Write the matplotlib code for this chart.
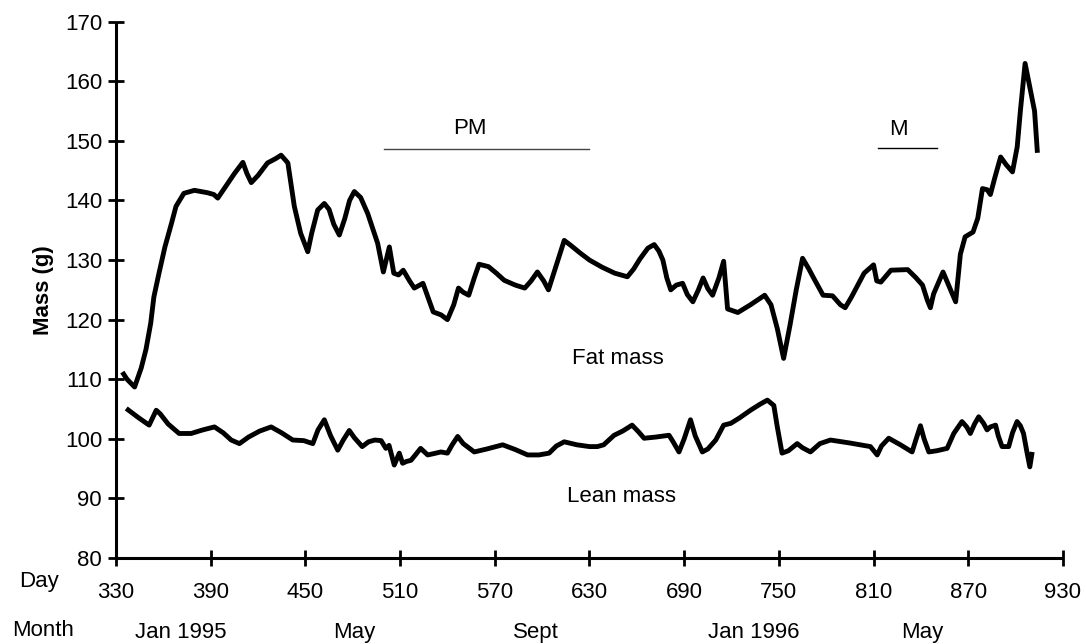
import matplotlib
matplotlib.use("Agg")
import matplotlib.pyplot as plt

# fat mass trace (day, g)
fat_day = [334, 337, 341.8, 346, 349, 352, 354, 357, 361, 365, 368, 373, 379.7,
           388, 392, 394.5, 400.9, 405, 410.4, 413, 415.7, 420, 426, 431, 434.6,
           438.9, 443, 447, 451.5, 454, 457.8, 462, 465, 468, 471.5, 475, 478,
           481, 485, 489.5, 495.8, 499.4, 503.2, 506, 509, 512, 516, 519, 524.5,
           528, 531, 536, 540, 544, 547, 550, 553.5, 557, 560, 566, 571, 576,
           583, 589, 593, 597, 601, 604, 607, 610, 614, 618, 624, 630, 638, 646,
           654, 658, 662, 667, 671, 674, 676.5, 679, 681.5, 685, 689, 692, 695.5,
           699, 702, 705, 708, 712, 715, 717.5, 724, 732, 741, 745, 749, 753,
           757, 761, 765, 769, 772, 778, 784, 789, 792, 796, 804, 810, 812,
           814.6, 821, 831.6, 836.6, 841, 844, 846, 848, 854, 858, 862, 865, 868,
           873, 876, 879, 882, 884, 887, 890.5, 894, 898, 901, 903, 906, 909,
           912, 913.8]
fat_mass = [111.2, 110, 108.7, 111.9, 115, 119.4, 123.8, 127.5, 132.2, 136, 139,
            141.2, 141.7, 141.3, 141, 140.4, 142.9, 144.5, 146.4, 144.5, 143,
            144.2, 146.3, 147, 147.6, 146.3, 139, 134.5, 131.4, 134.5, 138.4,
            139.5, 138.5, 136, 134.2, 137, 140, 141.5, 140.5, 137.8, 132.8, 128,
            132.2, 127.8, 127.5, 128.3, 126.5, 125.3, 126.1, 123.5, 121.3, 120.8,
            120, 122.5, 125.3, 124.6, 124.1, 127, 129.3, 128.9, 127.8, 126.6,
            125.8, 125.3, 126.5, 128, 126.5, 125, 127.5, 130, 133.3, 132.5, 131.2,
            130, 128.8, 127.8, 127.2, 128.5, 130.2, 132, 132.6, 131.5, 130, 127,
            125, 125.8, 126.1, 124.2, 123, 125, 127, 125.2, 124.1, 127, 129.8,
            121.8, 121.2, 122.5, 124.1, 122.5, 118.5, 113.5, 119, 125, 130.3,
            128.5, 127, 124.1, 124, 122.5, 122, 123.8, 127.8, 129.2, 126.5, 126.3,
            128.3, 128.4, 127.1, 125.8, 123.3, 122, 124.3, 128, 125.5, 123, 131,
            133.9, 134.7, 137, 142, 141.8, 141, 144, 147.3, 146, 144.8, 149, 155,
            163, 159, 155, 148]

# lean mass trace (day, g)
lean_day = [336.5, 344, 351, 355.5, 358, 363, 370, 377.6, 385, 392.4, 398, 403,
            408.2, 414, 421, 428.3, 435, 442, 449, 454.7, 458, 462, 466, 470.5,
            474, 477.8, 481, 486, 490, 494, 498, 501, 503, 506.3, 509.5, 511.6,
            514, 516.9, 520, 523, 527.5, 531, 535.9, 540, 543, 546.5, 550, 557,
            565, 575, 583, 590.8, 598, 604.4, 609, 614, 622, 630, 635, 639, 645.6,
            651, 657, 661, 664.6, 672, 680.4, 683, 686.7, 690, 694, 697, 701.5,
            705, 710, 715, 719.5, 725, 732, 738, 742.7, 746.8, 749, 752, 756,
            761.6, 765, 770, 776, 782.7, 795, 808, 812.3, 815, 819.6, 827, 834.4,
            837, 839.7, 842, 845, 850, 856.6, 860.8, 866, 869, 871.3, 874, 876.6,
            879.7, 881.9, 884, 887.3, 889, 891.4, 895.6, 898, 900.9, 903, 905,
            907, 909, 910.5]
lean_mass = [105.1, 103.6, 102.3, 104.8, 104.2, 102.5, 100.9, 100.9, 101.5, 102,
             101, 99.8, 99.2, 100.3, 101.3, 102, 101, 99.8, 99.7, 99.2, 101.5,
             103.2, 100.5, 98.1, 99.8, 101.4, 100.2, 98.7, 99.5, 99.8, 99.7, 98.4,
             98.9, 95.6, 97.6, 95.9, 96.2, 96.4, 97.4, 98.4, 97.3, 97.5, 97.8,
             97.6, 99, 100.4, 99.2, 97.8, 98.3, 99, 98.2, 97.3, 97.3, 97.6, 98.8,
             99.5, 99, 98.7, 98.7, 99, 100.6, 101.3, 102.3, 101.2, 100.1, 100.3,
             100.6, 99.5, 97.8, 100, 103.2, 100.5, 97.8, 98.3, 99.8, 102.3, 102.6,
             103.5, 104.8, 105.8, 106.5, 105.6, 102, 97.6, 98, 99.2, 98.5, 97.8,
             99.2, 99.8, 99.3, 98.7, 97.3, 98.8, 100.1, 99, 97.8, 100, 102.2, 100,
             97.8, 98, 98.4, 100.9, 102.9, 102, 100.9, 102.5, 103.7, 102.6, 101.5,
             102, 102.3, 100.5, 98.7, 98.7, 101, 102.9, 102.2, 100.9, 98, 95.3,
             97.8]

day_ticks = [330, 390, 450, 510, 570, 630, 690, 750, 810, 870, 930]
mass_ticks = [80, 90, 100, 110, 120, 130, 140, 150, 160, 170]
month_names = ["Jan 1995", "May", "Sept", "Jan 1996", "May"]
month_pos = [371, 481, 596, 734, 841]

pm_span = [500, 630]
m_span = [813, 850]

plt.rcParams['font.family'] = ['Liberation Sans', 'DejaVu Sans']
FS = 16

fig = plt.figure(figsize=(10.86, 6.44), dpi=100)
ax = fig.add_axes([0.1068, 0.1335, 0.872, 0.8328])

ax.plot(fat_day, fat_mass, color="black", lw=3.5, solid_joinstyle="round",
        solid_capstyle="butt")
ax.plot(lean_day, lean_mass, color="black", lw=3.5, solid_joinstyle="round",
        solid_capstyle="butt")

ax.plot(pm_span, [148.6, 148.6], color="#444444", lw=1.0)
ax.text(554, 150.3, "PM", ha="center", va="bottom", fontsize=FS)
ax.plot(m_span, [148.8, 148.8], color="black", lw=1.0)
ax.text(826, 150.1, "M", ha="center", va="bottom", fontsize=FS)

ax.text(648, 113.5, "Fat mass", ha="center", va="center", fontsize=FS)
ax.text(650, 90.3, "Lean mass", ha="center", va="center", fontsize=FS)

ax.set_xlim(330, 930)
ax.set_ylim(80, 170)
ax.set_xticks(day_ticks)
ax.set_yticks(mass_ticks)

for s in ["top", "right"]:
    ax.spines[s].set_visible(False)
for s in ["left", "bottom"]:
    ax.spines[s].set_linewidth(2.2)
    ax.spines[s].set_capstyle("butt")

ax.tick_params(axis="both", direction="inout", length=12, width=2,
               labelsize=FS)
ax.tick_params(axis="x", pad=11)
ax.tick_params(axis="y", pad=4)

ax.set_ylabel("Mass (g)", fontsize=FS, fontweight="bold", labelpad=8)

fig.text(0.018, 0.097, "Day", fontsize=FS, ha="left", va="center")
fig.text(0.011, 0.021, "Month", fontsize=FS, ha="left", va="center")
for name, d in zip(month_names, month_pos):
    ax.text(d, -0.138, name, transform=ax.get_xaxis_transform(),
            ha="center", va="center", fontsize=FS)

fig.savefig("out.png", dpi=100)
